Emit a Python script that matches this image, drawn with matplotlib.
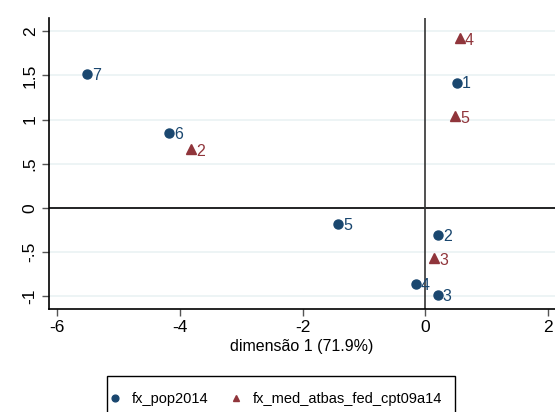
import matplotlib.pyplot as plt
from matplotlib.patches import Rectangle

plt.rcParams['font.family'] = ['Liberation Sans', 'DejaVu Sans']

# coordenadas das categorias (dimensão 1, dimensão 2)
pop_lab = ['7', '6', '1', '5', '2', '4', '3']
pop_x = [-5.51, -4.18, 0.52, -1.42, 0.21, -0.15, 0.21]
pop_y = [1.52, 0.85, 1.42, -0.18, -0.31, -0.86, -0.99]

med_lab = ['4', '5', '2', '3']
med_x = [0.57, 0.49, -3.82, 0.15]
med_y = [1.93, 1.04, 0.67, -0.57]

xticks = [-6, -4, -2, 0, 2]
yticks = [-1, -0.5, 0, 0.5, 1, 1.5, 2]
yticklabels = ['-1', '-.5', '0', '.5', '1', '1.5', '2']

azul = '#1a476f'
vinho = '#90353b'

fig = plt.figure(figsize=(5.55, 4.12), dpi=100)
ax = fig.add_axes([0.088, 0.25, 0.912, 0.706])

for v in yticks:
    ax.axhline(v, color='#eaf2f3', lw=1.2, zorder=0)
ax.axhline(0, color='black', lw=1.2, zorder=1)
ax.axvline(0, color='#333333', lw=1.2, zorder=1)

ax.plot(pop_x, pop_y, 'o', color=azul, ms=6.5, ls='none', label='fx_pop2014', zorder=3)
ax.plot(med_x, med_y, '^', color=vinho, ms=6.5, ls='none', label='fx_med_atbas_fed_cpt09a14', zorder=3)

for x, y, t in zip(pop_x, pop_y, pop_lab):
    ax.annotate(t, (x, y), xytext=(3.5, -1), textcoords='offset points', va='center', ha='left',
                color=azul, fontsize=11.5)
for x, y, t in zip(med_x, med_y, med_lab):
    ax.annotate(t, (x, y), xytext=(3.5, -2), textcoords='offset points', va='center', ha='left',
                color=vinho, fontsize=11.5)

ax.set_xlim(-6.14, 2.12)
ax.set_ylim(-1.147, 2.15)
ax.set_xticks(xticks)
ax.set_xticklabels([str(v) for v in xticks], fontsize=12.5)
ax.set_yticks(yticks)
ax.set_yticklabels(yticklabels, fontsize=12.5, rotation=90, va='center')
ax.tick_params(direction='out', length=5, width=1, color='#555555', pad=3)
ax.set_xlabel('dimensão 1 (71.9%)', fontsize=11.5, labelpad=3)

for s in ['top', 'right']:
    ax.spines[s].set_visible(False)
for s in ['left', 'bottom']:
    ax.spines[s].set_linewidth(1.2)

# legenda sem moldura + caixa desenhada à parte (a borda inferior sai da figura)
leg = fig.legend(loc='center left', bbox_to_anchor=(0.196, 0.032), ncol=2, fontsize=10.5,
                 frameon=False, handletextpad=0.75, handlelength=0.8, columnspacing=1.5,
                 borderpad=0, borderaxespad=0, markerscale=0.75)
fig.add_artist(Rectangle((107 / 555, -0.1), (455 - 107) / 555, 36 / 412 + 0.1,
                         transform=fig.transFigure, fill=False, edgecolor='black', lw=1))

fig.savefig('out.png', dpi=100, facecolor='white')
